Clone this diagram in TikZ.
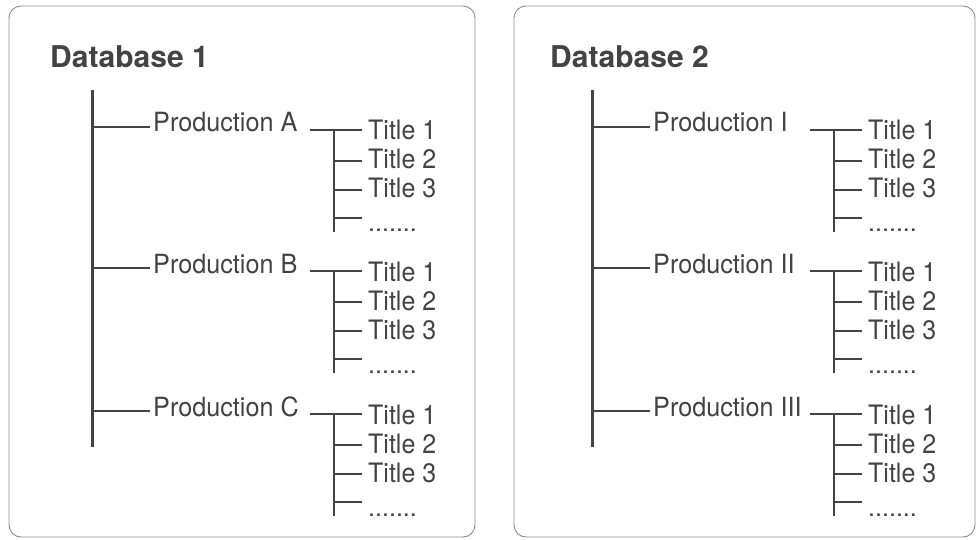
\documentclass[tikz,border=0pt]{standalone}
\usepackage{fontspec}
\setmainfont{TeX Gyre Heros}
\definecolor{ink}{HTML}{434343}
\definecolor{boxgray}{HTML}{8C8C8C}
\newcommand{\tallp}[1]{\scalebox{1}[1.05]{#1}}
\newcommand{\tallt}[1]{\scalebox{1}[1.07]{#1}}
\begin{document}
\begin{tikzpicture}[x=1pt,y=-1pt,
  panel/.style={draw=boxgray, line width=0.9pt, rounded corners=12pt},
  dbtitle/.style={font=\fontsize{30}{36}\selectfont\bfseries, text=ink, anchor=base west, inner sep=0pt},
  prod/.style={font=\fontsize{25.2}{30}\selectfont, text=ink, anchor=base west, inner sep=0pt},
  ttl/.style={font=\fontsize{25}{29}\selectfont, text=ink, anchor=base west, inner sep=0pt},
  trunkline/.style={draw=ink, line width=3pt},
  subline/.style={draw=ink, line width=2.6pt},
  branchline/.style={draw=ink, line width=2.1pt}]
\useasboundingbox (0,0) rectangle (977,540);
\fill[white] (0,0) rectangle (977,540);

% panels
\draw[panel] (9,6) rectangle (475,537);
\draw[panel] (514,6) rectangle (975,537);

% titles and trunks
\foreach \p/\dx/\n in {a/0/1, b/500/2}{
  \node[dbtitle] (db-\p) at (50+\dx,68) {Database \n};
  \coordinate (trunktop-\p) at (92+\dx,90);
  \coordinate (trunkbot-\p) at (92+\dx,447);
  \draw[trunkline] (trunktop-\p) -- (trunkbot-\p);
}

% blocks
\foreach \p/\k/\dx/\dy/\lbl in {a/1/0/0/A, a/2/0/141/B, a/3/0/284/C,
                                b/1/500/0/I, b/2/500/141/II, b/3/500/284/III}{
  \node[prod] (prod-\p\k) at (153+\dx,132+\dy) {\tallp{Production \lbl}};
  \coordinate (br-\p\k) at (92+\dx,127+\dy);
  \draw[branchline, shorten >=3pt] (br-\p\k) -- (br-\p\k -| prod-\p\k.west);

  \node[ttl] (ta-\p\k) at (368+\dx,140+\dy) {\tallt{Title 1}};
  \node[ttl] (tb-\p\k) at (368+\dx,169+\dy) {\tallt{Title 2}};
  \node[ttl] (tc-\p\k) at (368+\dx,198+\dy) {\tallt{Title 3}};
  \node[ttl] (td-\p\k) at (368+\dx,232+\dy) {.......};

  \coordinate (sl-\p\k) at (310+\dx,130+\dy);
  \coordinate (sj-\p\k) at (334+\dx,130+\dy);
  \coordinate (sb-\p\k) at (334+\dx,232+\dy);
  \coordinate (kb-\p\k) at (334+\dx,161+\dy);
  \coordinate (kc-\p\k) at (334+\dx,190+\dy);
  \coordinate (kd-\p\k) at (334+\dx,218+\dy);

  \draw[branchline, shorten >=6pt] (sl-\p\k) -- (sl-\p\k -| ta-\p\k.west);
  \draw[subline] (sj-\p\k) -- (sb-\p\k);
  \draw[branchline, shorten >=6pt] (kb-\p\k) -- (kb-\p\k -| tb-\p\k.west);
  \draw[branchline, shorten >=6pt] (kc-\p\k) -- (kc-\p\k -| tc-\p\k.west);
  \draw[branchline, shorten >=6pt] (kd-\p\k) -- (kd-\p\k -| td-\p\k.west);
}
\end{tikzpicture}
\end{document}
